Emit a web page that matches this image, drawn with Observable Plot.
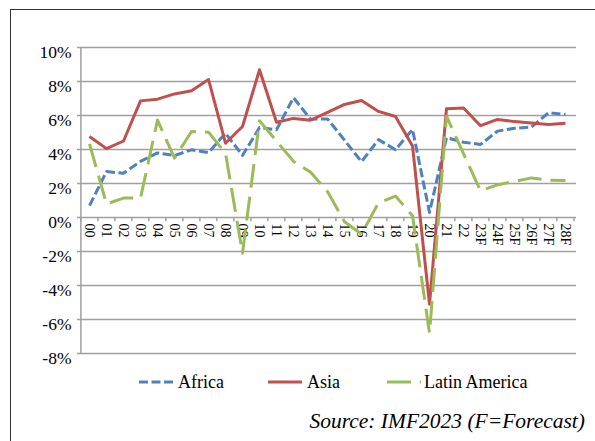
<!DOCTYPE html>
<html>
<head>
<meta charset="utf-8">
<script src="https://cdn.jsdelivr.net/npm/d3@7"></script>
<script src="https://cdn.jsdelivr.net/npm/@observablehq/plot@0.6"></script>
<style>
  html, body { margin: 0; padding: 0; background: #fff; }
  #wrap { position: relative; width: 595px; height: 441px; overflow: hidden; background: #fff; }
  #frame { position: absolute; left: 10px; top: 9px; width: 700px; height: 600px;
           border-left: 1.5px solid #333; border-top: 1.5px solid #333; }
  #chart { position: absolute; left: 0; top: 0; }
  #overlay { position: absolute; left: 0; top: 0; }
  #wrap svg, #wrap svg text { font-family: "Liberation Serif", "Times New Roman", "DejaVu Serif", serif !important; }
</style>
</head>
<body>
<div id="wrap">
  <div id="frame"></div>
  <div id="chart"></div>
  <svg id="overlay" width="595" height="441"></svg>
</div>
<script>
// ---- data ----
const years = ["00","01","02","03","04","05","06","07","08","09",
               "10","11","12","13","14","15","16","17","18","19",
               "20","21","22","23F","24F","25F","26F","27F","28F"];
const africa = [0.7, 2.7, 2.6, 3.3, 3.8, 3.65, 3.98, 3.82, 4.96, 3.65,
                5.29, 5.16, 7.05, 5.78, 5.8, 4.55, 3.28, 4.58, 3.99, 5.18,
                0.3, 4.7, 4.43, 4.3, 5.08, 5.25, 5.32, 6.16, 6.06];
const asia = [4.76, 4.05, 4.5, 6.86, 6.96, 7.27, 7.45, 8.12, 4.37, 5.35,
              8.69, 5.6, 5.83, 5.72, 6.18, 6.65, 6.88, 6.24, 5.94, 4.21,
              -5.1, 6.4, 6.44, 5.4, 5.77, 5.64, 5.56, 5.47, 5.55];
const latam = [4.33, 0.8, 1.14, 1.14, 5.73, 3.49, 5.06, 5.02, 3.78, -2.1,
               5.69, 4.5, 3.3, 2.67, 1.53, -0.25, -0.98, 0.86, 1.26, 0.1,
               -6.8, 5.96, 3.76, 1.57, 1.92, 2.12, 2.33, 2.19, 2.18];
const seriesNames = ["Africa", "Asia", "Latin America"];
const seriesValues = [africa, asia, latam];
const seriesColors = ["#4f81bd", "#c0504d", "#9bbb59"];
const seriesDash = ["9,3.5", null, "24,9"];
const yTicks = [-8, -6, -4, -2, 0, 2, 4, 6, 8, 10];
const sourceText = "Source: IMF2023 (F=Forecast)";

// ---- layout ----
const W = 595, H = 400, ML = 77, MR = 19, MT = 47, MB = 47;
const step = (W - ML - MR) / years.length;
const grid = "#a0a0a0";
const font = "Liberation Serif";

const rows = [];
seriesNames.forEach((name, s) => {
  years.forEach((yr, i) => rows.push({series: name, year: yr, value: seriesValues[s][i]}));
});

const lineMarks = seriesNames.map((name, s) =>
  Plot.line(rows.filter(r => r.series === name), {
    x: "year", y: "value",
    stroke: seriesColors[s], strokeWidth: 3,
    strokeDasharray: seriesDash[s] || undefined,
    strokeLinecap: "butt", strokeLinejoin: "round"
  })
);

const chart = Plot.plot({
  width: W, height: H,
  marginLeft: ML, marginRight: MR, marginTop: MT, marginBottom: MB,
  style: {fontFamily: font, background: "transparent", color: "#000"},
  x: {type: "point", domain: years, padding: 0.5, axis: null},
  y: {domain: [-8, 10], axis: null},
  marks: [
    Plot.ruleY(yTicks, {stroke: grid, strokeWidth: 1.5}),
    Plot.ruleX([years[0]], {y1: -8, y2: 10, dx: -step / 2, stroke: grid, strokeWidth: 1.5}),
    Plot.ruleX(years, {x: d => d, y1: 0, y2: -0.25, dx: -step / 2, stroke: grid, strokeWidth: 1.5}),
    Plot.ruleX([years[years.length - 1]], {x: d => d, y1: 0, y2: -0.25, dx: step / 2, stroke: grid, strokeWidth: 1.5}),
    Plot.text(years, {x: d => d, y: 0, text: d => d, rotate: 90, textAnchor: "start",
                      lineAnchor: "middle", dy: 6, fontSize: 14, fill: "#000"}),
    Plot.axisY(yTicks, {tickFormat: d => d + "%", tickSize: 0, tickPadding: 6,
                        fontSize: 17.5, dy: 5, fill: "#000", label: null}),
    ...lineMarks
  ]
});
document.getElementById("chart").appendChild(chart);

// ---- legend & source ----
const ns = "http://www.w3.org/2000/svg";
const ov = document.getElementById("overlay");
const legendX = [139, 268, 387];
seriesNames.forEach((name, s) => {
  const ln = document.createElementNS(ns, "line");
  ln.setAttribute("x1", legendX[s]); ln.setAttribute("x2", legendX[s] + 34);
  ln.setAttribute("y1", 382); ln.setAttribute("y2", 382);
  ln.setAttribute("stroke", seriesColors[s]); ln.setAttribute("stroke-width", 3);
  if (seriesDash[s]) ln.setAttribute("stroke-dasharray", seriesDash[s]);
  ov.appendChild(ln);
  const t = document.createElementNS(ns, "text");
  t.setAttribute("x", legendX[s] + (s === 2 ? 37 : 39));
  t.setAttribute("y", 388);
  t.setAttribute("font-size", 18);
  t.textContent = name;
  ov.appendChild(t);
});
const src = document.createElementNS(ns, "text");
src.setAttribute("x", 585); src.setAttribute("y", 428);
src.setAttribute("text-anchor", "end");
src.setAttribute("font-style", "italic");
src.setAttribute("font-size", 21.5);
src.textContent = sourceText;
ov.appendChild(src);
</script>
</body>
</html>
